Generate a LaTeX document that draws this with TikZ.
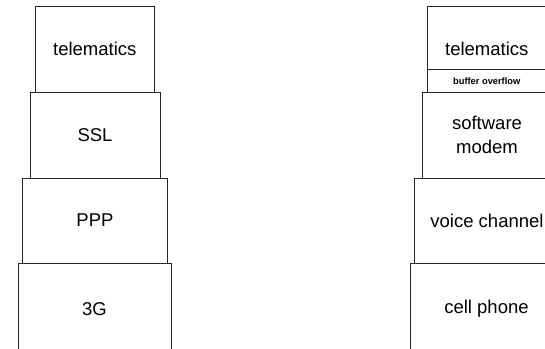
\documentclass[tikz,border=0pt]{standalone}
\usepackage{fontspec}
\setmainfont{Liberation Sans}
\begin{document}
\begin{tikzpicture}[x=1pt, y=-1pt,
  layer/.style={draw=black!85, line width=0.9pt, rectangle, inner sep=0pt,
    align=center, font=\fontsize{18.5}{24}\selectfont},
  strip/.style={draw=black!85, line width=0.9pt, rectangle, inner sep=0pt,
    font=\fontsize{9.3}{11}\selectfont\bfseries}]
\useasboundingbox (0,0) rectangle (545,348);
\clip (0,0) rectangle (545,348);

% left stack: telematics over SSL over PPP over 3G
\node[layer, minimum width=118.5pt, minimum height=86pt] (lt)  at (94.75,49)  {telematics};
\node[layer, minimum width=130pt,   minimum height=86pt] (ssl) at (95,135)    {SSL};
\node[layer, minimum width=145pt,   minimum height=85pt] (ppp) at (95,220.5)  {PPP};
\node[layer, minimum width=153pt,   minimum height=92pt] (g3)  at (94.5,309)  {3G};

% right stack, same geometry shifted right
\node[layer, minimum width=118.5pt, minimum height=86pt] (rt)  at (486.75,49) {telematics};
\node[strip, minimum width=118.5pt, minimum height=22.5pt] (buf) at (486.75,80.75) {buffer overflow};
\node[layer, minimum width=130pt,   minimum height=86pt] (sm)  at (487,135)   {software\\modem};
\node[layer, minimum width=145pt,   minimum height=85pt] (vc)  at (487,220.5) {voice channel};
\node[layer, minimum width=153pt,   minimum height=92pt] (cp)  at (486.5,309) {cell phone};
\end{tikzpicture}
\end{document}
